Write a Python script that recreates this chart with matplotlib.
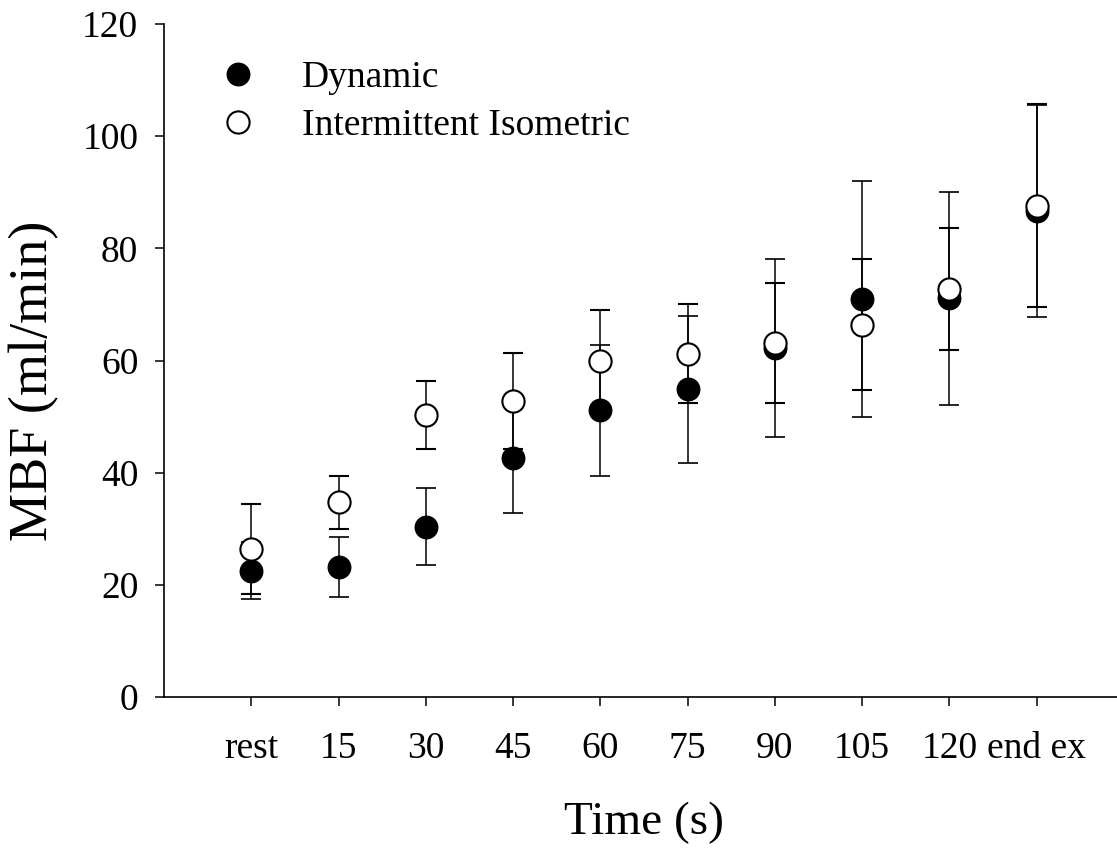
import matplotlib
matplotlib.use("Agg")
import matplotlib.pyplot as plt
import numpy as np

# time points
time_labels = ["rest", "15", "30", "45", "60", "75", "90", "105", "120", "end ex"]

# MBF (ml/min), mean and error
dynamic = [22.5, 23.2, 30.4, 42.6, 51.1, 54.9, 62.2, 71.0, 71.1, 86.7]
dynamic_err = [5.1, 5.4, 6.9, 9.7, 11.6, 13.1, 15.9, 21.0, 19.0, 18.9]
isometric = [26.4, 34.7, 50.3, 52.8, 60.0, 61.2, 63.1, 66.4, 72.7, 87.6]
isometric_err = [8.0, 4.7, 6.1, 8.5, 9.0, 8.8, 10.7, 11.7, 10.9, 18.1]

plt.rcParams["font.family"] = ["Liberation Serif", "DejaVu Serif"]

fig = plt.figure(figsize=(11.17, 8.48), dpi=100)
# axes runs a little past the right edge of the figure (cropped like the original)
ax = fig.add_axes([0.1468, 0.178, 0.8594, 0.7936])

x = np.arange(len(time_labels))

ax.errorbar(
    x, dynamic, yerr=dynamic_err,
    fmt="o", color="black", ecolor="black",
    markersize=16, markerfacecolor="black", markeredgecolor="black",
    markeredgewidth=1.2, elinewidth=1.1, capsize=7.5, capthick=1.1,
    label="Dynamic", zorder=3,
)
ax.errorbar(
    x, isometric, yerr=isometric_err,
    fmt="o", color="black", ecolor="black",
    markersize=16, markerfacecolor="white", markeredgecolor="black",
    markeredgewidth=1.5, elinewidth=1.1, capsize=7.5, capthick=1.1,
    label="Intermittent Isometric", zorder=4,
)

ax.set_xlim(-1, 10)
ax.set_ylim(0, 120)
ax.set_yticks(np.arange(0, 121, 20))
ax.set_xticks(x)
ax.set_xticklabels(time_labels)

for side in ["top", "right"]:
    ax.spines[side].set_visible(False)
for side in ["left", "bottom"]:
    ax.spines[side].set_linewidth(1.2)

ax.tick_params(axis="both", direction="out", length=6.5, width=1.1, labelsize=27)
ax.tick_params(axis="y", pad=12)
ax.tick_params(axis="x", pad=18)

ax.set_xlabel("Time (s)", fontsize=34, labelpad=26)
ax.set_ylabel("MBF (ml/min)", fontsize=39)
ax.yaxis.set_label_coords(-0.109, 0.4695)

handles, labels = ax.get_legend_handles_labels()
handles = [h[0] for h in handles]
ax.legend(
    handles, labels,
    loc="upper left", bbox_to_anchor=(0.0385, 0.974),
    frameon=False, fontsize=27, markerscale=1.0, borderpad=0,
    handlelength=1.0, handletextpad=1.2, labelspacing=0.37,
)

fig.savefig("out.png", dpi=100)
